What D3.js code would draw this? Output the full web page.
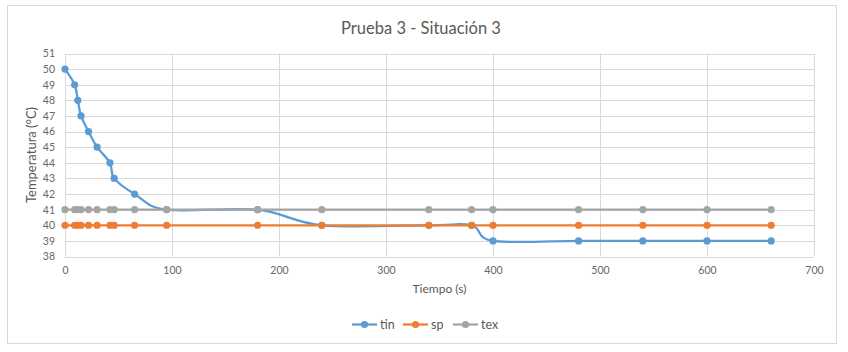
<!DOCTYPE html>
<html><head><meta charset="utf-8">
<script src="https://cdn.jsdelivr.net/npm/d3@7"></script>
<style>body{margin:0;background:#fff;} svg{display:block;}</style>
</head><body>
<svg id="chart" width="848" height="352"></svg>
<script>
const times = [0, 9, 12, 15, 22, 30, 42, 46, 65, 95, 180, 240, 340, 380, 400, 480, 540, 600, 660];
const tin = [50, 49, 48, 47, 46, 45, 44, 43, 42, 41, 41, 40, 40, 40, 39, 39, 39, 39, 39];
const sp  = [40, 40, 40, 40, 40, 40, 40, 40, 40, 40, 40, 40, 40, 40, 40, 40, 40, 40, 40];
const tex = [41, 41, 41, 41, 41, 41, 41, 41, 41, 41, 41, 41, 41, 41, 41, 41, 41, 41, 41];
const xTicks = [0, 100, 200, 300, 400, 500, 600, 700];
const yTicks = [38, 39, 40, 41, 42, 43, 44, 45, 46, 47, 48, 49, 50, 51];
const seriesNames = ["tin", "sp", "tex"];
const seriesColors = ["#5b9bd5", "#ed7d31", "#a5a5a5"];
const title = "Prueba 3 - Situación 3";
const xTitle = "Tiempo (s)";
const yTitle = "Temperatura (°C)";

const FONT = "Lato, 'Open Sans', sans-serif";
const svg = d3.select("#chart");
const L = 65, R = 814, T = 53.5, B = 256.5;
const x = d3.scaleLinear().domain([0, 700]).range([L, R]);
const y = d3.scaleLinear().domain([38, 51]).range([B, T]);

svg.append("rect").attr("x", 7.5).attr("y", 5.5).attr("width", 829).attr("height", 338)
  .attr("fill", "#fff").attr("stroke", "#d9d9d9").attr("stroke-width", 1);

svg.append("text").attr("x", 421).attr("y", 34).attr("text-anchor", "middle")
  .attr("font-family", FONT).attr("font-size", 16.5).attr("fill", "#595959").text(title);

// gridlines
const g = svg.append("g");
g.selectAll("line.h").data(yTicks).join("line")
  .attr("x1", L).attr("x2", R).attr("y1", d => Math.round(y(d)) + 0.5).attr("y2", d => Math.round(y(d)) + 0.5)
  .attr("stroke", "#d9d9d9").attr("stroke-width", 1);
g.selectAll("line.v").data(xTicks).join("line")
  .attr("y1", T).attr("y2", B).attr("x1", d => Math.round(x(d)) + 0.5).attr("x2", d => Math.round(x(d)) + 0.5)
  .attr("stroke", "#d9d9d9").attr("stroke-width", 1);

// axes labels via d3 axes
const yAxis = svg.append("g").attr("transform", `translate(${L},0)`)
  .call(d3.axisLeft(y).tickValues(yTicks).tickSize(0).tickPadding(10));
const xAxis = svg.append("g").attr("transform", `translate(0,${B})`)
  .call(d3.axisBottom(x).tickValues(xTicks).tickSize(0).tickPadding(10));
[xAxis, yAxis].forEach(a => {
  a.select(".domain").remove();
  a.selectAll("text").attr("font-family", FONT).attr("font-size", 10.5).attr("fill", "#666666");
});

svg.append("text").attr("x", 439.5).attr("y", 293).attr("text-anchor", "middle")
  .attr("font-family", FONT).attr("font-size", 12).attr("fill", "#595959").text(xTitle);
svg.append("text").attr("transform", `translate(36,155) rotate(-90)`).attr("text-anchor", "middle")
  .attr("font-family", FONT).attr("font-size", 13).attr("fill", "#595959").text(yTitle);

// series
const allSeries = [tin, sp, tex];
const line = d3.line().x(d => x(d[0])).y(d => y(d[1])).curve(d3.curveCardinal.tension(0));
allSeries.forEach((vals, i) => {
  const pts = times.map((t, j) => [t, vals[j]]);
  const sg = svg.append("g");
  sg.append("path").attr("d", line(pts)).attr("fill", "none")
    .attr("stroke", seriesColors[i]).attr("stroke-width", 2.25).attr("stroke-linecap", "round");
  sg.selectAll("circle").data(pts).join("circle")
    .attr("cx", d => x(d[0])).attr("cy", d => y(d[1])).attr("r", 3.6)
    .attr("fill", seriesColors[i]);
});

// legend
const legX = [352, 403, 453];
seriesNames.forEach((n, i) => {
  const lg = svg.append("g").attr("transform", `translate(${legX[i]},324.5)`);
  lg.append("line").attr("x1", 0).attr("x2", 25).attr("y1", 0).attr("y2", 0)
    .attr("stroke", seriesColors[i]).attr("stroke-width", 2.25);
  lg.append("circle").attr("cx", 12.5).attr("cy", 0).attr("r", 3.6).attr("fill", seriesColors[i]);
  lg.append("text").attr("x", 28).attr("y", 4.5).attr("font-family", FONT).attr("font-size", 12.5)
    .attr("fill", "#595959").text(n);
});
</script>
</body></html>
